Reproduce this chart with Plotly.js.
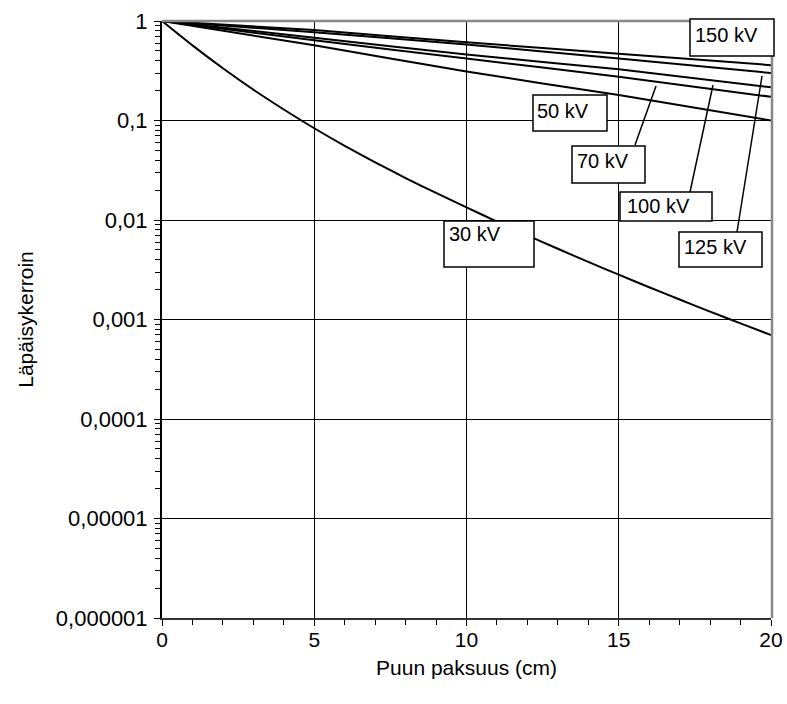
<!DOCTYPE html>
<html>
<head>
<meta charset="utf-8">
<script src="https://cdn.plot.ly/plotly-3.0.1.min.js"></script>
<style>
html,body{margin:0;padding:0;background:#fff;}
#chart{width:787px;height:704px;}
</style>
</head>
<body>
<div id="chart"></div>
<script>
// ---- data ----
const x30 = [0,1,2,3,4,5,6,7,8,9,10,11,12,13,14,15,16,17,18,19,20];
const kv30 = [1,0.569,0.335,0.204,0.129,0.0836,0.0557,0.0380,0.0264,0.0187,0.0134,0.00964,0.00701,0.00514,0.00379,0.00282,0.00211,0.00159,0.00120,0.000914,0.000698];
const xHigh = [0,5,10,15,20];
const kv50 = [1,0.57,0.31,0.18,0.10];
const kv70 = [1,0.64,0.42,0.275,0.173];
const kv100 = [1,0.68,0.46,0.327,0.216];
const kv125 = [1,0.77,0.58,0.42,0.30];
const kv150 = [1,0.81,0.61,0.47,0.36];
const yTickVals = [1,0.1,0.01,0.001,0.0001,0.00001,0.000001];
const yTickText = ['1','0,1','0,01','0,001','0,0001','0,00001','0,000001'];
const xTickVals = [0,5,10,15,20];
const xTickText = ['0','5','10','15','20'];
const seriesNames = ['30 kV','50 kV','70 kV','100 kV','125 kV','150 kV'];

// ---- layout helpers (pixel -> paper) ----
const L = 162, R = 771, T = 21, B = 618;
const px = v => (v - L) / (R - L);
const py = v => (B - v) / (B - T);

const FONT = 'Liberation Sans, Arial, sans-serif';

const ys = [kv30, kv50, kv70, kv100, kv125, kv150];
const xs = [x30, xHigh, xHigh, xHigh, xHigh, xHigh];
const traces = ys.map((y, i) => ({
  x: xs[i], y: y, name: seriesNames[i], type: 'scatter', mode: 'lines',
  line: {color: '#000', width: 2, shape: 'spline', smoothing: 0.6}, showlegend: false, hoverinfo: 'skip'
}));

// label boxes [left, top, right, bottom] in pixels, text left, text center y
const boxes = [
  {t: '150 kV', b: [690, 19, 774, 56], tx: 694, ty: 35},
  {t: '50 kV', b: [533, 95, 607, 131], tx: 536, ty: 111},
  {t: '70 kV', b: [572, 146, 645, 183], tx: 576, ty: 161},
  {t: '100 kV', b: [620, 192, 712, 221], tx: 626, ty: 206},
  {t: '125 kV', b: [679, 232, 762, 267], tx: 683, ty: 247},
  {t: '30 kV', b: [444, 221, 534, 267], tx: 448, ty: 234}
];
const leaders = [
  [635, 145, 656, 86],
  [690, 192, 713, 85],
  [737, 232, 762, 76]
];

const shapes = [];
// top and right grey borders
shapes.push({type: 'line', xref: 'paper', yref: 'paper', x0: 0, x1: px(773), y0: 1, y1: 1, line: {color: '#888', width: 2.5}});
shapes.push({type: 'line', xref: 'paper', yref: 'paper', x0: px(772), x1: px(772), y0: 0, y1: 1, line: {color: '#888', width: 2.5}});
leaders.forEach(l => shapes.push({type: 'line', xref: 'paper', yref: 'paper',
  x0: px(l[0]), y0: py(l[1]), x1: px(l[2]), y1: py(l[3]), line: {color: '#000', width: 1.5}}));
boxes.forEach(bx => shapes.push({type: 'rect', xref: 'paper', yref: 'paper',
  x0: px(bx.b[0]), y0: py(bx.b[3]), x1: px(bx.b[2]), y1: py(bx.b[1]),
  fillcolor: '#fff', line: {color: '#000', width: 1.5}}));

const annotations = boxes.map(bx => ({
  text: bx.t, xref: 'paper', yref: 'paper', x: px(bx.tx), y: py(bx.ty),
  xanchor: 'left', yanchor: 'middle', showarrow: false, borderpad: 0,
  font: {family: FONT, size: 20, color: '#000'}
}));

const layout = {
  width: 787, height: 704,
  margin: {l: L, r: 787 - R, t: T, b: 704 - B, pad: 0},
  paper_bgcolor: '#fff', plot_bgcolor: '#fff',
  font: {family: FONT, size: 20, color: '#000'},
  showlegend: false,
  xaxis: {
    range: [0, 20], tickmode: 'array', tickvals: xTickVals, ticktext: xTickText,
    ticks: 'outside', ticklen: 6, tickwidth: 1, tickcolor: '#000',
    ticklabelstandoff: -4,
    showgrid: true, gridcolor: '#000', gridwidth: 1,
    showline: true, linecolor: '#333', linewidth: 2,
    zeroline: false,
    tickfont: {family: FONT, size: 21, color: '#000'},
    minor: {dtick: 1, ticks: 'outside', ticklen: 5, tickcolor: '#000', tickwidth: 1, showgrid: false},
    title: {text: 'Puun paksuus (cm)', standoff: 10, font: {family: FONT, size: 21, color: '#000'}}
  },
  yaxis: {
    type: 'log', range: [-6, 0], tickmode: 'array', tickvals: yTickVals, ticktext: yTickText,
    ticks: 'outside', ticklen: 6, tickwidth: 1, tickcolor: '#000',
    ticklabelstandoff: 2,
    showgrid: true, gridcolor: '#000', gridwidth: 1,
    showline: true, linecolor: '#000', linewidth: 2,
    zeroline: false,
    tickfont: {family: FONT, size: 22, color: '#000'},
    minor: {dtick: 'D1', ticks: 'outside', ticklen: 5, tickcolor: '#000', tickwidth: 1, showgrid: false},
    title: {text: 'Läpäisykerroin', standoff: 16, font: {family: FONT, size: 21, color: '#000'}}
  },
  shapes: shapes,
  annotations: annotations
};

Plotly.newPlot('chart', traces, layout, {staticPlot: true, displayModeBar: false});
</script>
</body>
</html>
